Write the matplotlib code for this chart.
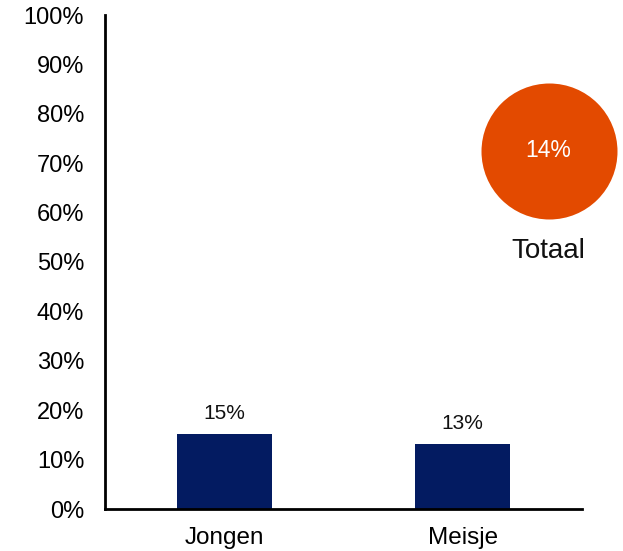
import matplotlib
matplotlib.use('Agg')
import matplotlib.pyplot as plt
from matplotlib.ticker import PercentFormatter

plt.rcParams['font.family'] = ['Liberation Sans', 'DejaVu Sans']

# data
categories = ['Jongen', 'Meisje']
values = [15.2, 13.1]          # percent
value_labels = ['15%', '13%']
total_value = 14               # percent, shown in the circle
total_label = 'Totaal'
yticks = list(range(0, 101, 10))

bar_color = '#031B61'
circle_color = '#E34A00'

fig = plt.figure(figsize=(6.23, 5.51), dpi=100)
ax = fig.add_axes([105 / 623, 1 - 509 / 551, 477 / 623, 494 / 551])

x = range(len(categories))
bars = ax.bar(x, values, width=0.4, color=bar_color, zorder=2)
for rect, lab in zip(bars, value_labels):
    ax.annotate(lab, (rect.get_x() + rect.get_width() / 2, rect.get_height()),
                xytext=(0, 8), textcoords='offset points', ha='center', va='bottom',
                fontsize=15, color='#111111')

ax.set_xlim(-0.5, 1.5)
ax.set_ylim(0, 100)
ax.set_xticks(list(x))
ax.set_xticklabels(categories, fontsize=17.5)
ax.set_yticks(yticks)
ax.yaxis.set_major_formatter(PercentFormatter(decimals=0))
ax.tick_params(axis='y', length=0, pad=15, labelsize=17)
ax.tick_params(axis='x', length=0, pad=13)

ax.spines['top'].set_visible(False)
ax.spines['right'].set_visible(False)
ax.spines['left'].set_linewidth(2)
ax.spines['bottom'].set_linewidth(2)

# total shown as a circle on the right
cx, cy = 548.5 / 623, 1 - 150.5 / 551
r_pt = 68 * 72 / 100
fig.add_artist(plt.Line2D([cx], [cy], marker='o', markersize=2 * r_pt,
                          markerfacecolor=circle_color, markeredgecolor='none',
                          linestyle='none', transform=fig.transFigure))
fig.text(cx, cy, f'{total_value}%', ha='center', va='center', fontsize=16.5,
         color='white')
fig.text(cx, 1 - 251 / 551, total_label, ha='center', va='center', fontsize=20,
         color='#111111')

plt.savefig('out.png', dpi=100)
